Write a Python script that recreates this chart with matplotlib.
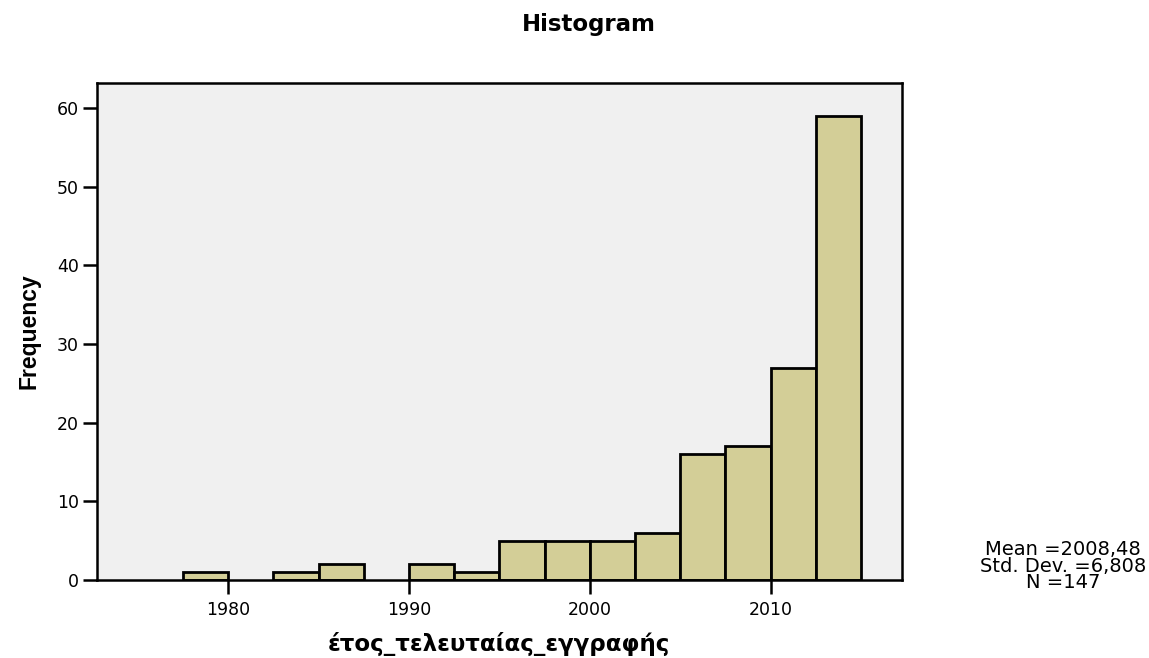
import numpy as np
import matplotlib
matplotlib.use("Agg")
import matplotlib.pyplot as plt

# histogram of year of last registration (SPSS style)
bin_left = [1977.5, 1980.0, 1982.5, 1985.0, 1987.5, 1990.0, 1992.5, 1995.0,
            1997.5, 2000.0, 2002.5, 2005.0, 2007.5, 2010.0, 2012.5]
counts = [1, 0, 1, 2, 0, 2, 1, 5, 5, 5, 6, 16, 17, 27, 59]
bin_width = 2.5
x_ticks = [1980, 1990, 2000, 2010]
y_ticks = [0, 10, 20, 30, 40, 50, 60]
stats_text = "Mean =2008,48\nStd. Dev. =6,808\nN =147"

plt.rcParams['font.family'] = ['DejaVu Sans']

fig = plt.figure(figsize=(11.49, 6.58), dpi=100)
ax = fig.add_axes([0.0844, 0.1185, 0.7004, 0.7558])
ax.set_facecolor('#f0f0f0')

for x, c in zip(bin_left, counts):
    if c > 0:
        ax.bar(x, c, width=bin_width, align='edge', color='#d3ce97',
               edgecolor='black', linewidth=2, zorder=3)

ax.set_xlim(1972.74, 2017.25)
ax.set_ylim(0, 63.2)
ax.set_xticks(x_ticks)
ax.set_yticks(y_ticks)
ax.tick_params(axis='both', length=10, width=1.8, labelsize=12.5, color='black')
ax.tick_params(axis='x', pad=5)
ax.tick_params(axis='y', pad=3)
for s in ax.spines.values():
    s.set_linewidth(1.8)
    s.set_zorder(4)

ax.set_xlabel('έτος_τελευταίας_εγγραφής', fontsize=16.5, fontweight='bold')
ax.xaxis.set_label_coords(0.5, -0.105)
ax.set_ylabel('Frequency', fontsize=16.5, fontweight='bold',
              family=['Liberation Sans Narrow', 'Liberation Sans'], labelpad=12)

fig.text(589 / 1149, 1 - 25 / 658, 'Histogram', ha='center', va='center',
         fontsize=16.5, fontweight='bold')
fig.text(1063 / 1149, 1 - 566 / 658, stats_text, ha='center', va='center',
         fontsize=14, linespacing=0.82)

fig.savefig('out.png', dpi=100)
